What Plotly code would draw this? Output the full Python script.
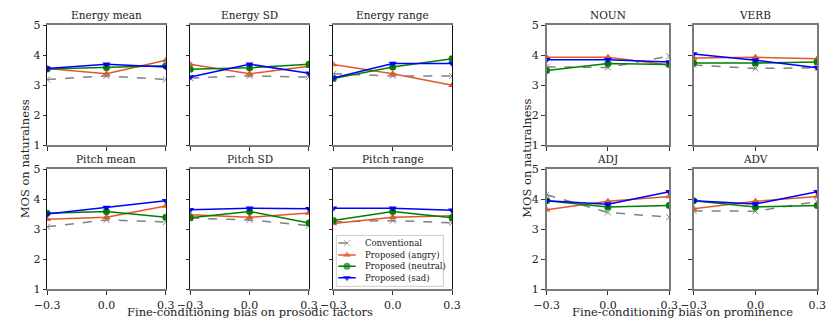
import plotly.graph_objects as go

bias = [-0.3, 0.0, 0.3]
tick_text = ["\u22120.3", "0.0", "0.3"]
panels = ["Energy mean", "Energy SD", "Energy range",
          "Pitch mean", "Pitch SD", "Pitch range",
          "NOUN", "VERB", "ADJ", "ADV"]

conventional = [[3.19, 3.31, 3.19], [3.24, 3.31, 3.27], [3.38, 3.31, 3.31],
                [3.08, 3.31, 3.24], [3.37, 3.31, 3.12], [3.24, 3.29, 3.21],
                [3.61, 3.59, 3.97], [3.67, 3.56, 3.58], [4.15, 3.56, 3.40],
                [3.61, 3.60, 3.92]]
angry = [[3.56, 3.38, 3.83], [3.70, 3.38, 3.63], [3.69, 3.38, 3.00],
         [3.33, 3.40, 3.77], [3.48, 3.40, 3.54], [3.19, 3.40, 3.45],
         [3.93, 3.93, 3.67], [3.91, 3.93, 3.88], [3.65, 3.93, 4.09],
         [3.68, 3.93, 4.09]]
neutral = [[3.54, 3.59, 3.65], [3.53, 3.58, 3.70], [3.22, 3.61, 3.88],
           [3.53, 3.59, 3.40], [3.38, 3.59, 3.21], [3.29, 3.59, 3.38],
           [3.49, 3.72, 3.69], [3.74, 3.74, 3.77], [3.95, 3.74, 3.79],
           [3.95, 3.74, 3.79]]
sad = [[3.56, 3.70, 3.61], [3.27, 3.70, 3.40], [3.24, 3.72, 3.72],
       [3.51, 3.72, 3.95], [3.65, 3.70, 3.68], [3.70, 3.70, 3.63],
       [3.85, 3.85, 3.77], [4.04, 3.83, 3.58], [3.95, 3.83, 4.25],
       [3.95, 3.84, 4.25]]

series_names = ["Conventional", "Proposed (angry)", "Proposed (neutral)", "Proposed (sad)"]
series_data = [conventional, angry, neutral, sad]
colors = ["#808080", "#E0582E", "#008000", "#0000FF"]
symbols = ["x-thin", "triangle-up", "circle", "triangle-down"]
dashes = ["dash", "solid", "solid", "solid"]

W, H = 835, 325
FONT = "DejaVu Serif, Liberation Serif, serif"
TXT = "#222222"

# pixel layout of panels (left, right, top, bottom)
col_px = [(35, 157), (182, 304), (329, 451), (548, 674), (699, 826)]
row_px = [(20, 145), (170, 295)]
panel_pos = [(0, 0), (1, 0), (2, 0), (0, 1), (1, 1), (2, 1),
             (3, 0), (4, 0), (3, 1), (4, 1)]


def marker_style(s, size=7):
    if s == 0:
        return dict(symbol="x-thin", size=size - 1, color=colors[s],
                    line=dict(color=colors[s], width=1))
    return dict(symbol=symbols[s], size=size, color=colors[s],
                line=dict(width=0))


fig = go.Figure()
layout = {}
for i, name in enumerate(panels):
    c, r = panel_pos[i]
    xl, xr = col_px[c]
    yt, yb = row_px[r]
    n = "" if i == 0 else str(i + 1)
    xd = [xl / W, xr / W]
    yd = [(H - yb) / H, (H - yt) / H]
    left_group = c < 3
    show_y = c in (0, 3)
    show_x = r == 1
    layout["xaxis" + n] = dict(
        domain=xd, range=[-0.3, 0.3], anchor="y" + n,
        tickvals=bias, ticktext=tick_text, showticklabels=show_x,
        ticks="outside", ticklen=3.5, tickwidth=1, tickcolor="#333",
        ticklabelstandoff=1,
        showline=True, mirror=True, linecolor="#7a7a7a", linewidth=2,
        showgrid=False, zeroline=False,
        tickfont=dict(family=FONT, size=11, color=TXT))
    layout["yaxis" + n] = dict(
        domain=yd, range=[1, 5], anchor="x" + n,
        tickvals=[1, 2, 3, 4, 5], showticklabels=show_y,
        ticks="outside", ticklen=3.5, tickwidth=1, tickcolor="#333",
        showline=True, mirror=True,
        linecolor="#111" if left_group else "#7a7a7a",
        linewidth=1 if left_group else 2,
        showgrid=False, zeroline=False,
        tickfont=dict(family=FONT, size=11, color=TXT))
    for s in range(4):
        fig.add_trace(go.Scatter(
            x=bias, y=series_data[s][i], mode="lines+markers",
            name=series_names[s], showlegend=False,
            line=dict(color=colors[s], width=1.5, dash=dashes[s]),
            marker=marker_style(s), xaxis="x" + n, yaxis="y" + n))
    fig.add_annotation(
        text=name, xref="paper", yref="paper",
        x=(xl + xr) / 2 / W, y=(H - yt + 2) / H,
        xanchor="center", yanchor="bottom", showarrow=False,
        font=dict(family=FONT, size=10.5, color=TXT))

# legend drawn in its own small, hidden axis (pixel-like units)
leg_l, leg_r, leg_t, leg_b = 332, 442, 239, 292
layout["xaxis11"] = dict(domain=[leg_l / W, leg_r / W], range=[0, 110],
                         anchor="y11", visible=False, fixedrange=True)
layout["yaxis11"] = dict(domain=[(H - leg_b) / H, (H - leg_t) / H], range=[53, 0],
                         anchor="x11", visible=False, fixedrange=True)
leg_rows = [8, 20.5, 32, 44]
for s in range(4):
    yy = leg_rows[s]
    fig.add_trace(go.Scatter(
        x=[2, 11, 20], y=[yy, yy, yy], mode="lines+markers", showlegend=False,
        line=dict(color=colors[s], width=1.5, dash=dashes[s]),
        marker=dict(marker_style(s, 7), size=[0, 7 if s else 6, 0]),
        xaxis="x11", yaxis="y11", cliponaxis=False, hoverinfo="skip"))
    fig.add_annotation(text=series_names[s], xref="x11", yref="y11",
                       x=27, y=yy, xanchor="left", yanchor="middle",
                       showarrow=False,
                       font=dict(family=FONT, size=8.5, color=TXT))
fig.add_shape(type="rect", xref="paper", yref="paper",
              x0=leg_l / W, x1=leg_r / W, y0=(H - leg_b) / H, y1=(H - leg_t) / H,
              line=dict(color="#cccccc", width=1), fillcolor="rgba(255,255,255,0)",
              layer="above")

annots = [
    dict(text="MOS on naturalness", x=12 / W, y=(H - 159) / H, textangle=-90),
    dict(text="MOS on naturalness", x=528 / W, y=(H - 159) / H, textangle=-90),
    dict(text="Fine-conditioning bias on prosodic factors", x=243 / W, y=(H - 318.5) / H),
    dict(text="Fine-conditioning bias on prominence", x=688 / W, y=(H - 318.5) / H),
]
for a in annots:
    fig.add_annotation(xref="paper", yref="paper", showarrow=False,
                       xanchor="center", yanchor="middle",
                       font=dict(family=FONT, size=11.5, color=TXT), **a)

fig.update_layout(
    width=W, height=H, margin=dict(l=0, r=0, t=0, b=0),
    paper_bgcolor="white", plot_bgcolor="rgba(0,0,0,0)",
    showlegend=False,
    **layout)

fig.write_html("out.html",
               config={"displayModeBar": False},
               post_script="document.body.style.margin='0px';"
                           "document.body.style.overflow='hidden';")
